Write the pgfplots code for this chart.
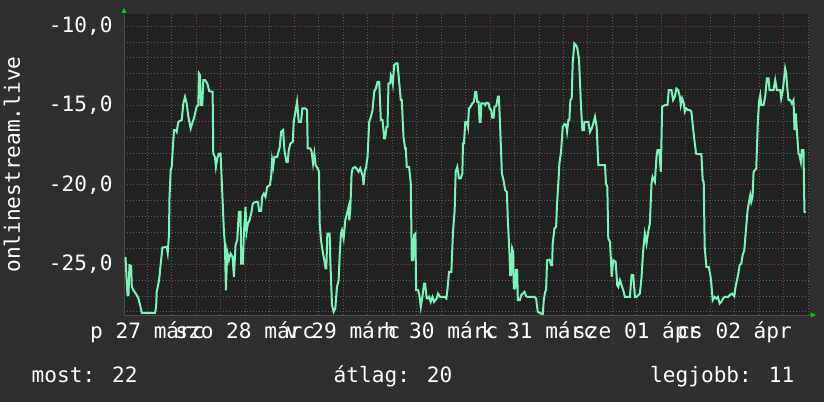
\documentclass[border=0pt]{standalone}
\usepackage{fontspec}
\setmainfont{DejaVu Sans Mono}
\usepackage{pgfplots}
\pgfplotsset{compat=1.18}

\definecolor{backcol}{RGB}{47,47,47}
\definecolor{canvascol}{RGB}{33,33,33}
\definecolor{minorgrid}{RGB}{92,92,92}
\definecolor{majorgrid}{RGB}{140,60,60}
\definecolor{linecol}{RGB}{122,245,185}
\definecolor{arrowcol}{RGB}{0,210,0}
\newcommand{\rrdfont}{\fontsize{21.2}{24}\selectfont}

\begin{document}
\begin{tikzpicture}
\useasboundingbox (-124bp,-87bp) rectangle (700bp,315bp);
\fill[backcol] (-124bp,-87bp) rectangle (700bp,315bp);
\begin{axis}[
  at={(0,0)}, anchor=south west,
  scale only axis,
  width=685.3bp, height=301bp,
  xmin=6.26, xmax=174.3,
  ymin=-28.2, ymax=-9.24,
  axis background/.style={fill=canvascol},
  axis x line*=bottom, axis y line*=left,
  axis line style={draw=black!70},
  tick style={draw=none},
  xtick={24,48,72,96,120,144,168},
  xticklabels={},
  minor xtick={6,12,18,30,36,42,54,60,66,78,84,90,102,108,114,126,132,138,150,156,162,174},
  ytick={-25,-20,-15,-10},
  yticklabels={{-25,0},{-20,0},{-15,0},{-10,0}},
  minor ytick={-28,-27,-26,-24,-23,-22,-21,-19,-18,-17,-16,-14,-13,-12,-11},
  grid=both,
  minor grid style={minorgrid, line width=0.8bp, dash pattern=on 1bp off 2bp},
  major grid style={majorgrid, line width=0.8bp, dash pattern=on 1bp off 2bp},
  tick label style={font=\rrdfont, text=white},
  yticklabel style={xshift=-8bp},
  extra x ticks={12,36,60,84,108,132,156},
  extra x tick labels={p 27 márc,szo 28 márc,v 29 márc,h 30 márc,k 31 márc,sze 01 ápr,cs 02 ápr},
  extra x tick style={grid=none, xticklabel style={anchor=base, yshift=-23bp}},
  clip=true,
]
\addplot[linecol, line width=2bp, mark=none] table {
h v
6.63 -24.54
6.79 -25.38
7.12 -26.95
7.36 -26.95
7.60 -25.06
8.01 -25.11
8.18 -26.43
8.58 -26.64
9.40 -26.95
9.81 -27.16
10.21 -27.58
10.62 -28.07
13.88 -28.07
14.13 -27.69
14.29 -26.74
14.86 -26.01
15.27 -24.96
15.68 -23.95
16.74 -23.91
16.98 -24.29
17.31 -23.07
17.39 -20.97
17.71 -19.08
17.96 -18.87
18.20 -17.82
18.53 -16.55
18.94 -16.55
19.18 -16.66
19.59 -16.03
20.41 -15.92
20.81 -14.87
21.22 -14.45
21.63 -14.87
22.04 -15.71
22.61 -16.45
23.10 -16.03
23.42 -15.82
24.07 -15.08
24.48 -14.98
24.64 -12.98
24.89 -13.09
25.13 -14.98
25.46 -14.98
25.71 -13.40
26.11 -13.40
26.68 -13.61
27.17 -14.10
27.99 -14.14
28.15 -18.03
28.56 -18.24
28.80 -18.87
29.13 -18.34
29.54 -18.03
29.94 -18.03
30.19 -19.50
30.76 -22.96
31.00 -23.70
31.25 -26.64
31.57 -24.22
31.98 -24.75
32.39 -24.33
32.88 -24.54
33.21 -25.80
33.61 -23.80
34.02 -23.49
34.43 -21.70
34.84 -21.70
35.00 -24.96
35.41 -24.96
35.65 -23.07
36.06 -21.39
36.30 -22.96
36.63 -22.44
37.04 -22.23
37.45 -21.81
37.85 -21.18
38.51 -21.07
39.08 -21.07
39.40 -21.64
39.89 -21.64
40.14 -20.76
40.54 -20.55
40.95 -20.76
41.36 -20.13
42.01 -20.02
42.34 -19.50
42.58 -18.45
42.83 -18.87
43.15 -18.24
43.81 -18.24
44.46 -17.61
44.78 -16.66
45.27 -16.55
45.60 -17.82
46.09 -18.55
46.41 -18.55
46.66 -17.82
47.07 -17.40
47.64 -17.29
47.88 -16.03
48.29 -15.40
48.70 -14.77
49.10 -16.03
49.67 -16.03
50.00 -15.19
50.74 -15.19
51.14 -15.29
51.31 -17.71
51.96 -17.71
52.28 -17.92
52.61 -18.66
52.94 -18.03
53.26 -18.76
53.75 -18.97
54.08 -19.18
54.24 -22.44
54.57 -23.49
55.06 -24.33
55.38 -24.75
55.71 -25.27
55.87 -25.27
56.12 -23.07
56.69 -23.07
56.85 -24.75
57.26 -27.58
57.67 -28.00
58.07 -27.79
58.48 -26.43
58.89 -26.01
59.13 -24.54
59.46 -23.07
59.70 -22.86
60.11 -23.38
60.52 -22.23
60.93 -21.81
61.33 -21.39
61.50 -22.23
61.74 -21.60
62.07 -19.29
62.31 -18.97
62.88 -18.87
63.29 -18.97
63.78 -19.18
64.19 -18.97
64.60 -19.29
64.84 -19.50
65.00 -20.02
65.33 -19.08
65.57 -18.97
65.98 -18.24
66.39 -16.03
66.80 -15.72
67.20 -15.29
67.61 -14.14
68.02 -13.93
68.43 -13.51
68.84 -13.51
69.24 -15.92
69.65 -15.92
70.06 -17.08
70.30 -17.08
70.63 -16.35
70.87 -16.35
71.12 -13.61
71.53 -13.61
71.69 -13.09
72.01 -13.30
72.18 -13.61
72.50 -12.46
72.91 -12.35
73.32 -12.35
73.73 -13.51
74.13 -14.66
74.38 -14.66
74.79 -16.98
75.19 -17.71
75.36 -17.71
75.60 -18.87
76.17 -18.87
76.58 -19.92
76.83 -24.75
77.15 -24.75
77.40 -23.17
77.72 -23.07
77.89 -26.64
78.37 -26.64
78.70 -26.95
79.03 -27.69
79.43 -27.06
79.84 -26.22
80.09 -26.22
80.49 -27.16
80.82 -27.16
81.06 -27.06
81.47 -27.37
81.88 -27.06
82.29 -27.37
82.94 -27.16
83.27 -26.85
83.76 -27.06
84.90 -27.06
85.30 -27.16
85.55 -26.64
85.96 -25.48
86.53 -25.48
86.93 -22.96
87.34 -21.60
87.59 -19.18
87.99 -18.87
88.40 -19.60
88.81 -19.60
89.22 -19.29
89.38 -17.39
89.62 -17.39
89.95 -16.03
90.36 -16.03
90.60 -16.35
90.85 -15.19
91.25 -15.08
91.66 -14.87
92.07 -14.77
92.39 -14.14
92.64 -14.14
92.88 -14.77
93.21 -14.77
93.45 -16.03
93.70 -16.03
93.86 -14.87
94.51 -14.87
94.84 -14.98
95.17 -14.83
95.66 -14.87
95.90 -15.19
96.31 -15.29
96.55 -15.76
96.88 -15.76
97.12 -15.08
97.53 -15.04
97.94 -14.45
98.18 -14.45
98.51 -16.45
98.92 -19.29
99.32 -19.71
99.73 -20.34
100.14 -20.44
100.38 -22.23
100.79 -24.33
100.95 -25.69
101.20 -25.69
101.44 -24.01
101.69 -24.22
101.85 -26.53
102.18 -26.53
102.42 -25.38
102.67 -25.38
102.83 -27.27
103.32 -27.27
103.65 -26.95
104.05 -26.85
104.46 -26.74
104.87 -27.02
105.28 -27.06
106.91 -27.06
107.31 -27.16
107.72 -28.00
108.54 -28.11
108.94 -28.15
109.19 -27.27
109.52 -26.74
109.76 -26.64
110.00 -24.75
110.58 -24.71
110.98 -25.06
111.23 -25.06
111.39 -23.70
111.80 -22.75
112.21 -22.65
112.45 -21.18
112.78 -19.81
113.02 -18.66
113.43 -17.92
113.84 -16.35
114.25 -16.18
114.65 -16.20
114.90 -16.66
115.22 -15.92
115.47 -15.92
115.71 -14.66
116.04 -14.56
116.28 -12.35
116.69 -11.09
117.10 -11.20
117.43 -11.41
117.84 -12.14
118.08 -13.61
118.33 -15.08
118.65 -16.55
119.06 -16.55
119.14 -16.03
120.12 -16.03
120.53 -16.66
120.94 -16.45
121.34 -16.13
121.75 -15.71
122.16 -16.35
122.57 -18.76
124.20 -18.76
124.44 -19.92
124.77 -20.13
125.01 -23.38
125.42 -23.59
125.67 -24.75
125.83 -25.80
126.24 -24.75
126.81 -24.85
127.21 -26.32
127.46 -26.43
127.87 -26.01
128.27 -26.32
128.68 -26.64
129.09 -27.06
130.31 -27.06
130.72 -25.69
131.13 -25.69
131.54 -27.06
131.94 -27.06
132.76 -26.85
133.17 -25.80
133.57 -24.12
133.98 -23.07
134.39 -23.70
134.80 -22.96
135.20 -22.44
135.61 -19.92
135.86 -19.50
136.43 -19.81
136.83 -18.24
137.08 -17.82
137.49 -17.82
137.89 -19.18
138.22 -15.08
138.87 -14.98
139.53 -14.98
139.85 -14.03
140.50 -14.03
140.91 -14.66
141.32 -14.45
141.73 -13.93
142.13 -14.03
142.54 -14.45
142.79 -14.98
143.11 -14.56
143.52 -14.87
143.77 -15.40
144.17 -15.19
144.58 -15.29
144.99 -15.29
145.39 -15.40
145.72 -16.24
146.13 -17.19
146.53 -18.03
147.02 -18.07
147.84 -18.07
148.16 -19.71
148.41 -19.81
148.65 -23.91
149.06 -25.17
149.63 -25.17
150.04 -25.69
150.28 -26.22
150.61 -27.27
151.10 -27.06
151.51 -27.16
151.91 -27.06
152.32 -27.48
152.73 -27.37
153.14 -27.16
153.54 -27.06
154.36 -27.06
154.77 -26.95
155.34 -26.85
155.91 -27.02
156.15 -26.53
156.56 -26.01
156.97 -25.48
157.21 -25.06
157.62 -24.96
157.95 -24.43
158.36 -24.12
158.76 -22.86
159.17 -21.60
159.66 -20.86
159.82 -20.65
160.07 -21.07
160.39 -20.76
160.64 -19.18
161.29 -18.97
161.70 -15.92
162.02 -14.66
162.27 -14.35
162.51 -14.98
163.08 -14.98
163.49 -14.45
163.90 -13.30
164.31 -13.30
164.55 -14.03
165.53 -14.03
165.94 -13.40
166.35 -14.03
167.16 -14.03
167.41 -14.56
167.81 -14.03
168.38 -12.67
168.63 -12.98
168.95 -14.03
169.20 -14.66
169.61 -14.66
170.01 -14.87
170.42 -14.66
170.67 -16.55
170.99 -15.50
171.24 -16.55
171.65 -18.03
171.89 -18.13
172.22 -18.55
172.46 -17.82
172.87 -17.82
173.11 -21.70
173.44 -21.74
};
\end{axis}
% green end markers of the axes
\fill[arrowcol] (-2.5bp,302bp) -- (2.5bp,302bp) -- (0bp,307bp) -- cycle;
\fill[arrowcol] (686.5bp,-2.5bp) -- (686.5bp,2.5bp) -- (692bp,0bp) -- cycle;
% vertical title and summary line
\node[rotate=90, text=white, font=\rrdfont] at (-112bp,150.5bp) {onlinestream.live};
\node[anchor=base west, text=white, font=\rrdfont, inner sep=0pt] at (-92.5bp,-67bp) {most: 22};
\node[anchor=base west, text=white, font=\rrdfont, inner sep=0pt] at (209.5bp,-67bp) {átlag: 20};
\node[anchor=base west, text=white, font=\rrdfont, inner sep=0pt] at (526bp,-67bp) {legjobb: 11};
\end{tikzpicture}
\end{document}
